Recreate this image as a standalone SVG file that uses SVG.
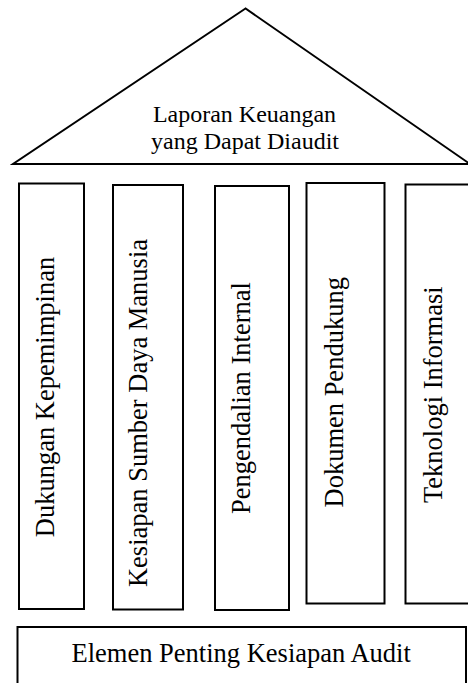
<svg xmlns="http://www.w3.org/2000/svg" width="468" height="683" viewBox="0 0 468 683">
<style>
.s{fill:#fff;stroke:#000;stroke-width:2}
.t{font-size:26.5px;fill:#000}
.r{font-size:24px;fill:#000}
</style>
<rect width="468" height="683" fill="#fff"/>
<g id="roof">
<polygon class="s" points="245.5,8.5 13,164 470,164"/>
<text class="r" font-family="Liberation Serif" text-anchor="middle" x="244.5" y="121.5">Laporan Keuangan</text>
<text class="r" font-family="Liberation Serif" text-anchor="middle" x="245" y="149">yang Dapat Diaudit</text>
</g>
<g id="pillar1">
<rect class="s" x="19" y="183.5" width="65" height="425.5"/>
<text class="t" font-family="Liberation Serif" text-anchor="middle" x="54" y="397" transform="rotate(-90 54 397)">Dukungan Kepemimpinan</text>
</g>
<g id="pillar2">
<rect class="s" x="113" y="185" width="70" height="424.5"/>
<text class="t" font-family="Liberation Serif" text-anchor="middle" x="147.3" y="413" transform="rotate(-90 147.3 413)">Kesiapan Sumber Daya Manusia</text>
</g>
<g id="pillar3">
<rect class="s" x="215" y="186" width="74" height="424"/>
<text class="t" font-family="Liberation Serif" text-anchor="middle" x="250" y="398" transform="rotate(-90 250 398)">Pengendalian Internal</text>
</g>
<g id="pillar4">
<rect class="s" x="306.5" y="183" width="78" height="420.5"/>
<text class="t" font-family="Liberation Serif" text-anchor="middle" x="342.7" y="392.3" transform="rotate(-90 342.7 392.3)">Dokumen Pendukung</text>
</g>
<g id="pillar5">
<rect class="s" x="405.5" y="184.5" width="70" height="419"/>
<text class="t" font-family="Liberation Serif" text-anchor="middle" x="441.7" y="394.7" transform="rotate(-90 441.7 394.7)">Teknologi Informasi</text>
</g>
<g id="base">
<rect class="s" x="17.5" y="627" width="448.5" height="80"/>
<text class="t" font-family="Liberation Serif" text-anchor="middle" x="241.2" y="662">Elemen Penting Kesiapan Audit</text>
</g>
<g id="connectors"></g>
</svg>
